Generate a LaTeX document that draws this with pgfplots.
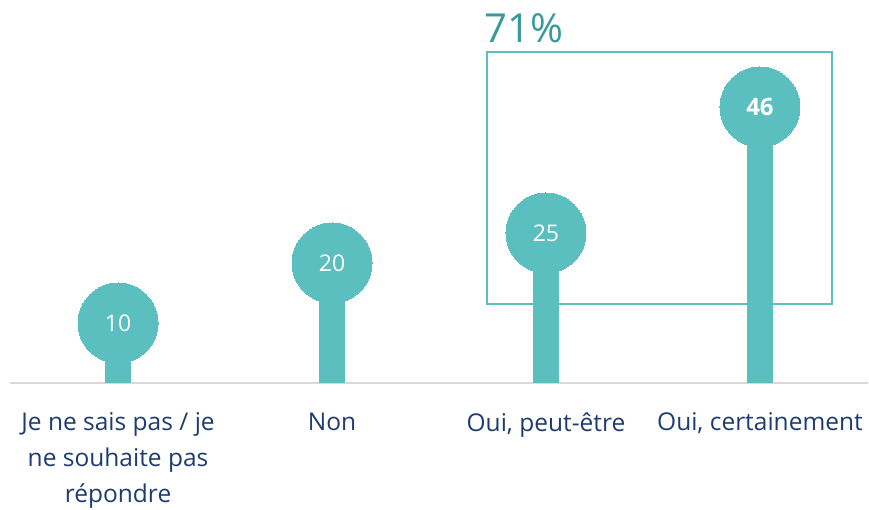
\documentclass[border=0pt]{standalone}
\usepackage{fontspec}
\setmainfont{Open Sans}
\usepackage{pgfplots}
\pgfplotsset{compat=1.18}
\definecolor{tealc}{HTML}{5CBFBF}
\definecolor{tealt}{HTML}{3A9A9A}
\definecolor{navy}{HTML}{1F3C70}
\definecolor{basegray}{HTML}{D9D9D9}

\begin{document}
\begin{tikzpicture}
\path[use as bounding box] (0,0) rectangle (869pt,509pt);
\begin{axis}[
  at={(10pt,126pt)}, anchor=south west,
  scale only axis, width=858pt, height=383pt,
  xmin=-0.505, xmax=3.505, ymin=0, ymax=63.83,
  clip=false,
  axis x line*=bottom, axis y line=none,
  x axis line style={draw=basegray, line width=2pt, -},
  xtick={0,1,2,3}, major tick length=0pt,
  xticklabels={{Je ne sais pas / je\\ne souhaite pas\\répondre},{Non},{Oui, peut-être},{Oui, certainement}},
  xticklabel style={align=center, font=\fontsize{24.5}{36}\selectfont, text=navy, anchor=north, yshift=-26pt},
  /pgf/number format/assume math mode=true,
]
\addplot[ycomb, draw=tealc, line width=26pt] coordinates {(0,10)(1,20)(2,25)(3,46)};
\addplot[only marks, mark=*, mark size=40pt, mark options={fill=tealc, draw=tealc, line width=0pt},
  nodes near coords, nodes near coords align={center},
  every node near coord/.append style={text=white, font=\fontsize{23}{26}\selectfont}]
  coordinates {(0,10)(1,20)(2,25)};
\addplot[only marks, mark=*, mark size=40pt, mark options={fill=tealc, draw=tealc, line width=0pt},
  nodes near coords, nodes near coords align={center},
  every node near coord/.append style={text=white, font=\fontsize{24}{26}\selectfont\bfseries}]
  coordinates {(3,46)};
\draw[tealc, line width=2pt] (axis cs:1.724,13.17) rectangle (axis cs:3.336,55.17);
\node[anchor=base west, text=tealt, font=\fontsize{40}{46}\selectfont, inner sep=0pt]
  at (axis cs:1.712,56.67) {71\%};
\end{axis}
\end{tikzpicture}
\end{document}
